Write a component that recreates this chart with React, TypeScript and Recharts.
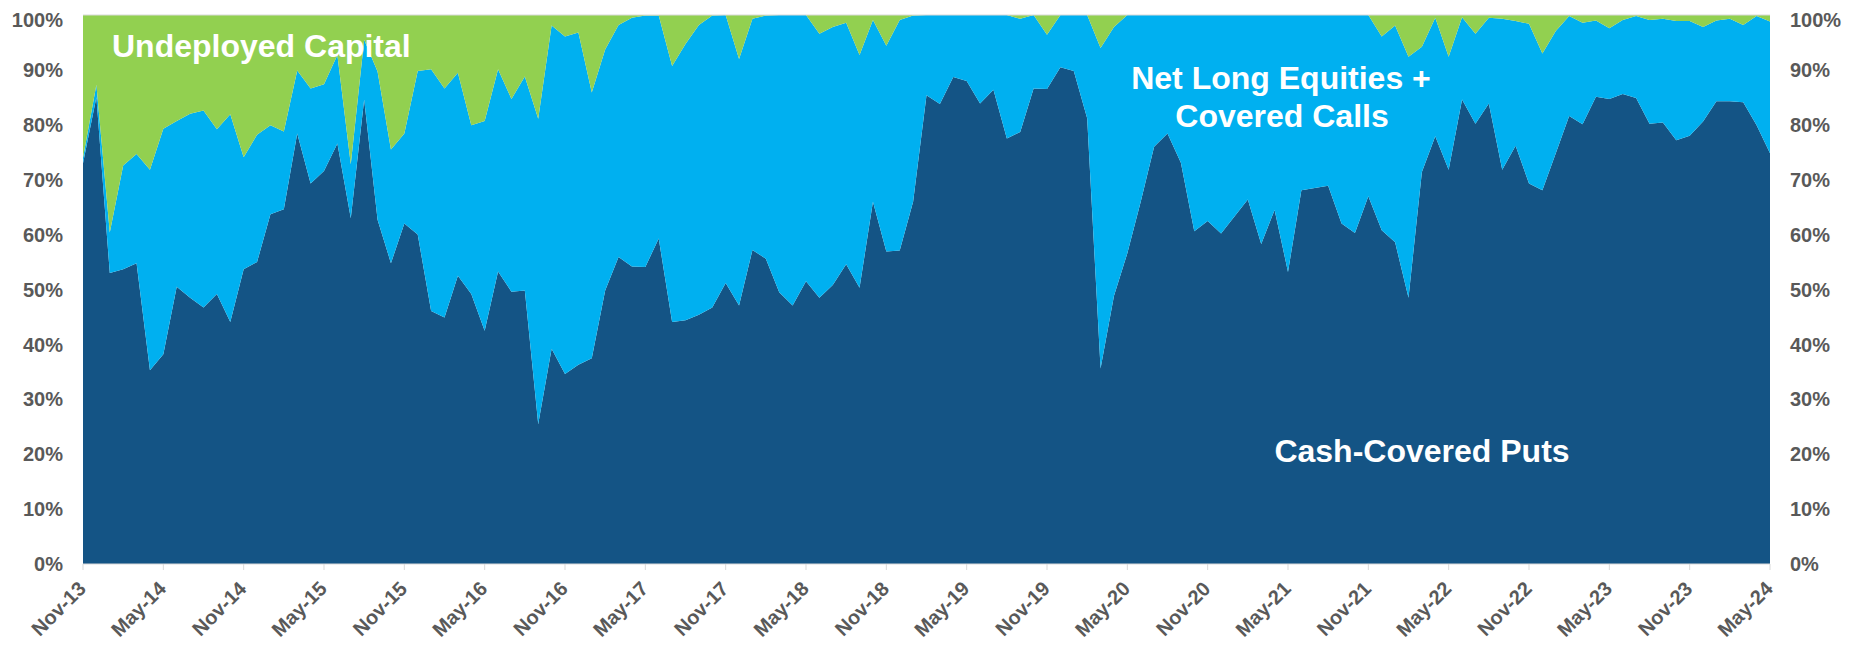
import React from 'react';
import { AreaChart, Area, XAxis, YAxis, ReferenceLine } from 'recharts';

// month names used to build the category labels (Nov-13 .. May-24)
const monthNames = ['Jan', 'Feb', 'Mar', 'Apr', 'May', 'Jun', 'Jul', 'Aug', 'Sep', 'Oct', 'Nov', 'Dec'];

// Cash-covered puts, % of capital
const putsPct = [
  73, 85, 53, 53.7, 54.8, 35.3, 38.2, 50.5, 48.5, 46.7, 49.2, 44.1,
  53.7, 55, 63.7, 64.6, 78.4, 69.3, 71.6, 76.6, 63, 84.6, 62.7, 54.8,
  62, 60, 46.1, 44.9, 52.5, 49.2, 42.5, 53.3, 49.6, 49.8, 25.5, 39.2,
  34.6, 36.3, 37.5, 49.8, 55.9, 54.2, 54.1, 59.3, 44.1, 44.4, 45.4, 46.7,
  51.2, 47.1, 57.2, 55.6, 49.5, 47.1, 51.5, 48.5, 50.8, 54.6, 50.3, 66,
  56.9, 57.1, 66, 85.4, 83.8, 88.7, 88, 83.9, 86.4, 77.5, 78.7, 86.6,
  86.5, 90.5, 89.8, 81.2, 35.6, 48.8, 56.6, 66, 76, 78.4, 73.1, 60.6,
  62.5, 60.2, 63.3, 66.4, 58.3, 64.5, 53.2, 68.1, 68.5, 68.9, 62, 60.3,
  67, 60.8, 58.6, 48.5, 71.4, 77.9, 71.8, 84.6, 80.2, 83.9, 71.8, 76.2,
  69.3, 68.1, 74.8, 81.6, 80.1, 85.1, 84.7, 85.6, 84.9, 80.2, 80.4, 77.2,
  78, 80.6, 84.3, 84.3, 84.1, 79.9, 74.8,
];

// top of the light blue band = puts + net long equities/covered calls
const investedPct = [
  74, 87.3, 60.4, 72.6, 74.7, 71.8, 79.3, 80.7, 82, 82.6, 79.2, 81.9,
  74.1, 78.2, 79.9, 78.8, 89.9, 86.6, 87.4, 92.7, 72.8, 95.5, 89.7, 75.5,
  78.4, 89.8, 90.1, 86.6, 89.5, 79.9, 80.7, 90.1, 84.7, 88.8, 81.1, 98.1,
  96.1, 96.8, 85.9, 93.7, 98.2, 99.5, 99.9, 99.9, 90.7, 94.7, 98.2, 99.9,
  100, 92, 99.3, 99.9, 100, 100, 100, 96.6, 97.8, 98.6, 92.7, 99.1,
  94.4, 99.1, 99.9, 100, 100, 100, 100, 100, 100, 100, 99.3, 100,
  96.4, 100, 100, 100, 94, 97.8, 100, 100, 100, 100, 100, 100,
  100, 100, 100, 100, 100, 100, 100, 100, 100, 100, 100, 100,
  100, 96.1, 98.1, 92.4, 94.2, 99.5, 92.4, 99.6, 96.6, 99.5, 99.3, 98.9,
  98.4, 93, 97.1, 99.8, 98.6, 99, 97.6, 99.1, 99.8, 99.1, 99.3, 98.9,
  98.9, 97.8, 99, 99.3, 98.2, 99.8, 98.8,
];

const yTicks = [0, 10, 20, 30, 40, 50, 60, 70, 80, 90, 100];

const darkBlue = '#145485';
const lightBlue = '#00B0F0';
const green = '#92D050';
const axisGrey = '#595959';
const lineGrey = '#D9D9D9';
const font = '"Liberation Sans", Arial, sans-serif';

const data = putsPct.map((p, i) => {
  const m = 10 + i;
  const label = `${monthNames[m % 12]}-${13 + Math.floor(m / 12)}`;
  return {
    month: label,
    puts: p,
    equities: investedPct[i] - p,
    undeployed: 100 - investedPct[i],
  };
});

const XTick = (props: any) => {
  const { x, y, payload } = props;
  const tx = x + 4;
  const ty = y + 18;
  return (
    <text
      x={tx}
      y={ty}
      transform={`rotate(-45 ${tx} ${ty})`}
      textAnchor="end"
      fill={axisGrey}
      fontSize={20}
      fontWeight={700}
      fontFamily={font}
    >
      {payload.value}
    </text>
  );
};

const labelStyle: React.CSSProperties = {
  fill: '#FFFFFF',
  fontSize: 32,
  fontWeight: 700,
  fontFamily: font,
};

const yTickStyle = { fill: axisGrey, fontSize: 20, fontWeight: 700, fontFamily: font };

export default function App() {
  return (
    <div style={{ position: 'relative', width: 1837, height: 637, marginBottom: -8 }}>
      <AreaChart width={1837} height={637} data={data} margin={{ top: 7, right: 0, bottom: 0, left: 0 }}>
        <XAxis
          dataKey="month"
          interval={5}
          height={81}
          tickSize={6}
          axisLine={{ stroke: lineGrey }}
          tickLine={{ stroke: lineGrey }}
          tick={<XTick />}
        />
        <YAxis
          yAxisId="left"
          width={75}
          domain={[0, 100]}
          ticks={yTicks}
          tickFormatter={(v) => `${v}%`}
          axisLine={false}
          tickLine={false}
          tickSize={0}
          tickMargin={20}
          tick={yTickStyle}
        />
        <YAxis
          yAxisId="right"
          orientation="right"
          width={75}
          domain={[0, 100]}
          ticks={yTicks}
          tickFormatter={(v) => `${v}%`}
          axisLine={false}
          tickLine={false}
          tickSize={0}
          tickMargin={20}
          tick={yTickStyle}
        />
        <Area yAxisId="left" type="linear" dataKey="puts" stackId="a" stroke="none" fill={darkBlue} fillOpacity={1} isAnimationActive={false} />
        <Area yAxisId="left" type="linear" dataKey="equities" stackId="a" stroke="none" fill={lightBlue} fillOpacity={1} isAnimationActive={false} />
        <Area yAxisId="left" type="linear" dataKey="undeployed" stackId="a" stroke="none" fill={green} fillOpacity={1} isAnimationActive={false} />
        {/* invisible series so the right-hand axis gets drawn */}
        <Area yAxisId="right" type="linear" dataKey="puts" stroke="none" fill="none" fillOpacity={0} activeDot={false} isAnimationActive={false} />
        <ReferenceLine yAxisId="left" y={100} stroke={lineGrey} />
      </AreaChart>
      {/* series labels drawn over the plot */}
      <svg width={1837} height={637} style={{ position: 'absolute', left: 0, top: 0, pointerEvents: 'none' }}>
        <text x={104} y={48.7} style={labelStyle}>Undeployed Capital</text>
        <text x={1273} y={81.3} textAnchor="middle" style={labelStyle}>Net Long Equities +</text>
        <text x={1274} y={118.5} textAnchor="middle" style={labelStyle}>Covered Calls</text>
        <text x={1414} y={453.5} textAnchor="middle" style={labelStyle}>Cash-Covered Puts</text>
      </svg>
    </div>
  );
}
